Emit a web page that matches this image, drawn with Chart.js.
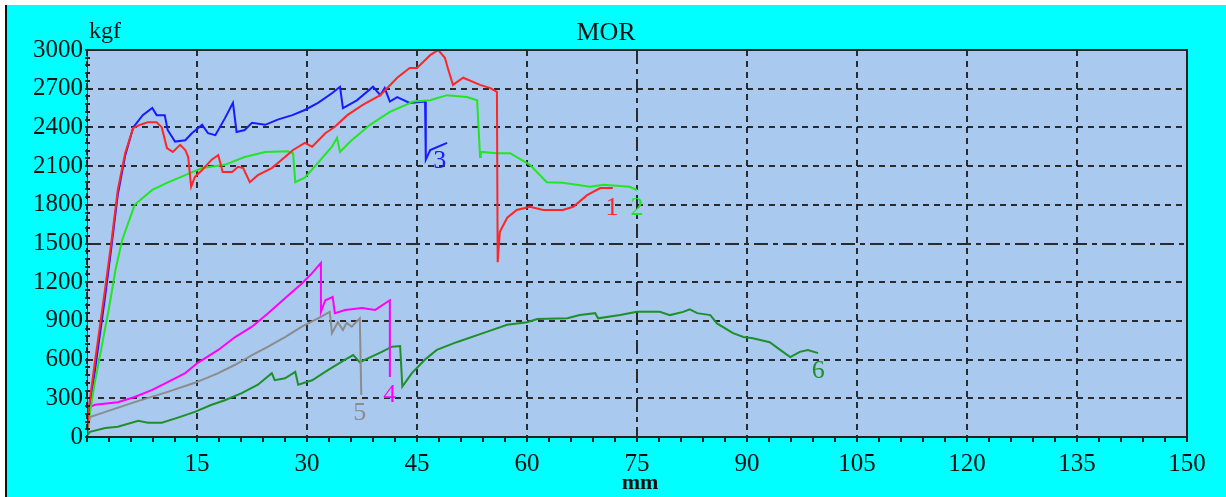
<!DOCTYPE html>
<html>
<head>
<meta charset="utf-8">
<script src="https://cdn.jsdelivr.net/npm/chart.js@4"></script>
<style>
    html, body { margin: 0; padding: 0; background: #fff; }
    canvas { display: block; }
</style>
</head>
<body>
<canvas id="morChart" width="1226" height="497"></canvas>
<script>
/* ================= DATA ================= */

const xTickValues = [0, 15, 30, 45, 60, 75, 90, 105, 120, 135, 150];
const yTickValues = [0, 300, 600, 900, 1200, 1500, 1800, 2100, 2400, 2700, 3000];

// specimen 1 (red)
const x1 = [0, 0.3, 1, 2.45, 3.3, 4.2, 5.2, 6.3, 7.2, 8.3, 9.5, 10.2, 10.9, 11.7, 12.7, 13.4, 13.8, 14.2, 14.7, 15.7, 17.0, 17.9, 18.5, 19.8, 20.6, 21.3, 22.2, 23.3, 25.2, 27, 28.1, 29.7, 30.7, 32.5, 33.8, 35.5, 37.6, 40, 42.3, 44, 45, 46.8, 47.9, 48.8, 49.2, 49.9, 51.3, 53.6, 55, 55.9, 56.0, 56.3, 57.3, 58.6, 60.4, 62.2, 64.9, 66.3, 68.2, 70, 71.7];
const y1 = [30, 250, 550, 1140, 1500, 1915, 2200, 2395, 2420, 2440, 2440, 2400, 2240, 2210, 2265, 2225, 2170, 1940, 2015, 2070, 2150, 2185, 2055, 2055, 2095, 2085, 1975, 2030, 2085, 2170, 2225, 2280, 2250, 2355, 2405, 2495, 2575, 2650, 2785, 2860, 2860, 2960, 3000, 2940, 2860, 2730, 2785, 2730, 2705, 2675, 1355, 1590, 1700, 1760, 1785, 1760, 1760, 1785, 1875, 1930, 1930];

// specimen 2 (green)
const x2 = [0, 0.3, 1, 2, 3, 3.9, 4.8, 6.5, 8.9, 10.9, 13.4, 15.7, 18.8, 21.5, 24.3, 27.4, 28.1, 28.4, 29.7, 31.5, 33.4, 34.1, 34.5, 35.9, 38.6, 41.3, 44.5, 46.8, 49.1, 51.8, 53.2, 53.6, 53.7, 55.9, 57.7, 60.4, 62.7, 64.9, 68.6, 70.4, 74, 75];
const y2 = [30, 150, 400, 700, 1000, 1300, 1527, 1800, 1915, 1970, 2030, 2085, 2110, 2170, 2210, 2215, 2200, 1975, 2010, 2125, 2250, 2320, 2210, 2290, 2420, 2520, 2600, 2610, 2650, 2635, 2610, 2170, 2210, 2200, 2200, 2110, 1975, 1970, 1940, 1955, 1940, 1915];

// specimen 3 (blue)
const x3 = [0, 0.3, 1, 2.45, 3.3, 4.2, 5.2, 6.3, 7.6, 8.9, 9.5, 10.6, 11.0, 12, 13.4, 14.3, 15.7, 16.5, 17.5, 18.8, 19.9, 20.4, 21.5, 22.5, 24.3, 26, 28, 29.7, 31.5, 33.4, 34.5, 34.9, 36.8, 39, 40, 40.6, 41.3, 42.3, 44, 46.1, 46.2, 46.8, 49.1];
const y3 = [30, 200, 480, 1080, 1460, 1880, 2180, 2400, 2495, 2550, 2495, 2495, 2380, 2290, 2300, 2355, 2420, 2355, 2340, 2470, 2590, 2365, 2380, 2435, 2420, 2460, 2495, 2535, 2590, 2665, 2715, 2550, 2610, 2715, 2650, 2705, 2600, 2635, 2590, 2600, 2150, 2225, 2280];

// specimen 4 (magenta)
const x4 = [0, 0.4, 1.1, 4.2, 6.5, 8.9, 11, 13.4, 15.1, 17.9, 20.2, 22.5, 24.7, 27, 29.3, 30.7, 31.9, 31.9, 32.5, 33.5, 33.8, 35.2, 37.5, 39.3, 41.3, 41.3];
const y4 = [30, 233, 250, 270, 310, 365, 425, 495, 575, 675, 775, 855, 960, 1075, 1190, 1270, 1350, 970, 1060, 1085, 960, 985, 1000, 985, 1060, 465];

// specimen 5 (grey)
const x5 = [0, 0.4, 2, 6.5, 11, 14.7, 17.9, 20.2, 22.5, 24.7, 27, 29.3, 31.5, 33.1, 33.4, 34.2, 34.9, 35.4, 36.1, 37.2, 37.4];
const y5 = [30, 155, 185, 270, 350, 420, 495, 560, 635, 700, 775, 855, 920, 970, 805, 890, 830, 885, 855, 920, 325];

// specimen 6 (dark green)
const x6 = [0, 0.4, 2.5, 4.2, 7, 8.3, 10.2, 12.4, 14.7, 17, 18.8, 21.1, 23.3, 25.2, 25.6, 27, 28.4, 28.8, 30.7, 32.9, 35.2, 36.3, 37.2, 38.3, 40.2, 41.6, 42.7, 43, 44.3, 46.1, 47.7, 50.4, 54.5, 57.3, 60, 61.4, 65.5, 67.2, 69.3, 69.7, 72.7, 75, 78.1, 79.5, 81.3, 82.2, 83.2, 85, 85.9, 88.1, 89.5, 90.8, 93.1, 94.9, 95.9, 97.2, 98.3, 99.7];
const y6 = [10, 40, 70, 80, 125, 110, 110, 150, 195, 250, 285, 340, 405, 495, 440, 455, 505, 405, 440, 520, 600, 635, 580, 610, 660, 700, 705, 390, 495, 600, 675, 735, 815, 870, 890, 915, 920, 945, 960, 920, 945, 970, 970, 945, 970, 990, 960, 945, 880, 805, 775, 765, 735, 660, 620, 660, 675, 650];

const seriesNames = ["1", "2", "3", "4", "5", "6"];
const seriesColors = ["#ff2626", "#22e622", "#1a1aff", "#ff00ff", "#8c8c8c", "#1f8f2a"];
const labelX = [71.6, 75.0, 48.1, 41.3, 37.2, 99.7];
const labelY = [1775, 1775, 2140, 325, 186, 512];

/* ================= HELPERS ================= */

function toPoints(xs, ys) {
    return xs.map((x, i) => ({ x: x, y: ys[i] }));
}

const seriesData = [toPoints(x1, y1), toPoints(x2, y2), toPoints(x3, y3),
                    toPoints(x4, y4), toPoints(x5, y5), toPoints(x6, y6)];

const SERIF = "'Liberation Serif', 'Times New Roman', serif";

/* ================= DECORATION PLUGIN ================= */

const framePlugin = {
    id: "frame",
    beforeDraw(chart) {
        const ctx = chart.ctx;
        const a = chart.chartArea;
        ctx.save();
        ctx.fillStyle = "#ffffff";
        ctx.fillRect(0, 0, chart.width, chart.height);
        ctx.fillStyle = "#00ffff";
        ctx.fillRect(6, 5, chart.width - 6, chart.height - 5);
        ctx.fillStyle = "#111";
        ctx.fillRect(5, 5, 2, chart.height - 5);
        ctx.fillStyle = "#a9c9ef";
        ctx.fillRect(a.left, a.top, a.right - a.left, a.bottom - a.top);
        ctx.restore();
    },
    afterDraw(chart) {
        const ctx = chart.ctx;
        const a = chart.chartArea;
        const xs = chart.scales.x;
        const ys = chart.scales.y;
        ctx.save();

        // frame
        ctx.strokeStyle = "#222";
        ctx.lineWidth = 2;
        ctx.beginPath();
        ctx.moveTo(a.left, a.top);
        ctx.lineTo(a.right, a.top);
        ctx.lineTo(a.right, a.bottom);
        ctx.lineTo(a.left, a.bottom);
        ctx.stroke();
        ctx.lineWidth = 1;
        ctx.beginPath();
        ctx.moveTo(a.left + 0.5, a.top);
        ctx.lineTo(a.left + 0.5, a.bottom);
        ctx.stroke();

        // minor ticks
        ctx.lineWidth = 2;
        ctx.beginPath();
        for (let v = 0; v <= 150; v += 3) {
            const px = Math.round(xs.getPixelForValue(v));
            ctx.moveTo(px, a.bottom);
            ctx.lineTo(px, a.bottom + 5);
        }
        for (let v = 0; v <= 3000; v += 60) {
            const py = Math.round(ys.getPixelForValue(v));
            ctx.moveTo(a.left - 2, py);
            ctx.lineTo(a.left + 3, py);
        }
        ctx.stroke();

        // texts
        ctx.fillStyle = "#111";
        ctx.textBaseline = "alphabetic";
        ctx.font = "26px " + SERIF;
        ctx.textAlign = "center";
        ctx.fillText("MOR", 606, 40);
        ctx.font = "24px " + SERIF;
        ctx.textAlign = "left";
        ctx.fillText("kgf", 89, 38);
        ctx.font = "bold 22px " + SERIF;
        ctx.textAlign = "center";
        ctx.fillText("mm", 640, 489);

        // curve numbers
        ctx.font = "26px " + SERIF;
        ctx.textBaseline = "middle";
        seriesNames.forEach((name, i) => {
            ctx.fillStyle = seriesColors[i];
            ctx.fillText(name, xs.getPixelForValue(labelX[i]), ys.getPixelForValue(labelY[i]));
        });
        ctx.restore();
    }
};

/* ================= CHART ================= */

function gridDash(ctx) {
    const v = ctx.tick ? ctx.tick.value : null;
    return (v === 1500 || v === 75) ? [14, 5, 5, 5] : [6, 5];
}

new Chart(document.getElementById("morChart").getContext("2d"), {
    type: "line",
    data: {
        datasets: seriesData.map((pts, i) => ({
            label: seriesNames[i],
            data: pts,
            borderColor: seriesColors[i],
            borderWidth: 2,
            pointRadius: 0,
            tension: 0,
            fill: false
        }))
    },
    options: {
        responsive: false,
        animation: false,
        layout: { padding: { top: 50, right: 39, left: 0, bottom: 0 } },
        plugins: { legend: { display: false }, tooltip: { enabled: false } },
        scales: {
            x: {
                type: "linear",
                min: 0,
                max: 150,
                afterBuildTicks: s => { s.ticks = xTickValues.map(v => ({ value: v })); },
                afterFit: s => { s.height = 60; },
                ticks: {
                    color: "#111",
                    padding: 12,
                    maxRotation: 0,
                    autoSkip: false,
                    font: { family: SERIF, size: 25 },
                    callback: v => (v === 0 ? "" : String(v))
                },
                grid: { color: "rgba(25,25,25,0.9)", lineWidth: 2, drawTicks: false },
                border: { display: false, dash: gridDash }
            },
            y: {
                type: "linear",
                min: 0,
                max: 3000,
                afterBuildTicks: s => { s.ticks = yTickValues.map(v => ({ value: v })); },
                afterFit: s => { s.width = 87; },
                ticks: {
                    color: "#111",
                    padding: 4,
                    autoSkip: false,
                    font: { family: SERIF, size: 25 },
                    callback: v => String(v)
                },
                grid: { color: "rgba(25,25,25,0.9)", lineWidth: 2, drawTicks: false },
                border: { display: false, dash: gridDash }
            }
        }
    },
    plugins: [framePlugin]
});
</script>
</body>
</html>
